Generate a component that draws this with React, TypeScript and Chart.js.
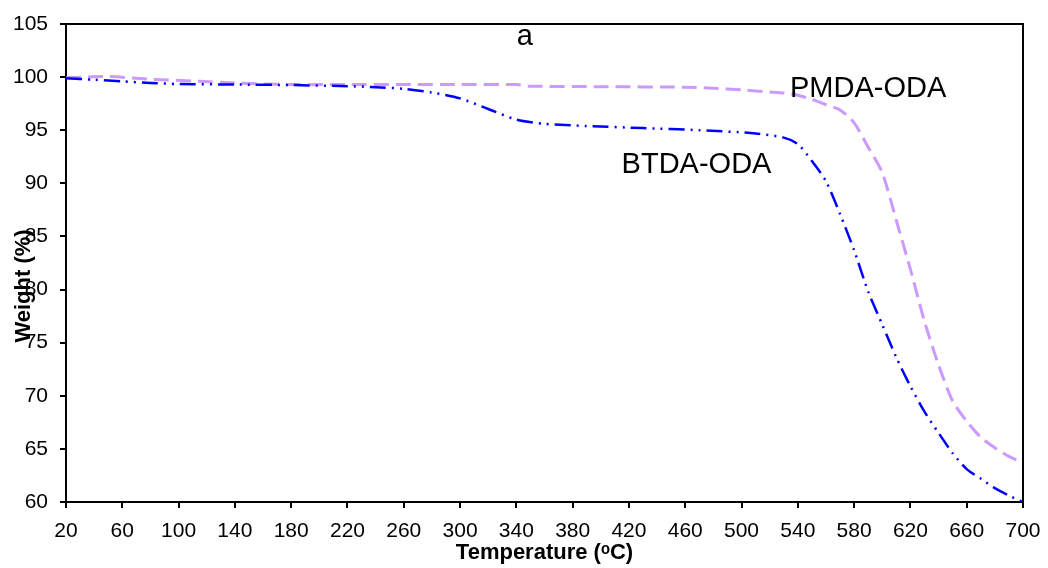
import React, { useEffect, useRef } from 'react';
import { Chart, registerables } from 'chart.js';

Chart.register(...registerables);

// BTDA-ODA (blue, dash-dot-dot)
const btdaTemps = [20, 40, 60, 80, 100, 140, 180, 220, 240, 260, 280, 300, 320, 340, 360, 390, 430, 470, 510, 530, 540, 550, 560, 570, 580, 590, 600, 610, 620, 630, 640, 650, 660, 670, 680, 690, 700];
const btdaWeights = [99.9, 99.75, 99.6, 99.45, 99.35, 99.3, 99.25, 99.15, 99.05, 98.9, 98.55, 98.0, 97.0, 96.0, 95.6, 95.4, 95.2, 95.0, 94.7, 94.3, 93.7, 92.1, 90.2, 87.1, 83.7, 79.8, 76.7, 73.6, 70.9, 68.5, 66.5, 64.6, 63.1, 62.2, 61.3, 60.6, 60.0];

// PMDA-ODA (lavender, dashed)
const pmdaTemps = [20, 50, 80, 115, 140, 180, 220, 260, 300, 340, 350, 400, 460, 480, 500, 520, 530, 540, 550, 560, 570, 580, 590, 600, 610, 620, 630, 640, 650, 660, 670, 680, 690, 700];
const pmdaWeights = [99.95, 100.05, 99.8, 99.6, 99.45, 99.3, 99.3, 99.3, 99.3, 99.3, 99.15, 99.1, 99.05, 98.95, 98.8, 98.6, 98.5, 98.3, 97.9, 97.4, 96.9, 95.7, 93.4, 91.0, 86.5, 81.9, 77.0, 72.9, 69.5, 67.6, 66.1, 65.1, 64.3, 63.7];

const seriesNames = ['BTDA-ODA', 'PMDA-ODA'];
const xTickMin = 20;
const xTickMax = 700;
const xTickStep = 40;
const yTickMin = 60;
const yTickMax = 105;
const yTickStep = 5;
const xTitle = 'Temperature (ᵒC)';
const yTitle = 'Weight (%)';

// in-plot text labels (data coordinates)
const noteTexts = ['a', 'PMDA-ODA', 'BTDA-ODA'];
const noteTemps = [346, 534.4, 414.8];
const noteWeights = [103.0, 98.1, 91.0];
const noteAligns: CanvasTextAlign[] = ['center', 'left', 'left'];

const FONT = '"Liberation Sans", Arial, sans-serif';

const framePlugin = {
  id: 'frameAndNotes',
  afterDatasetsDraw(chart: any) {
    const { ctx, chartArea } = chart;
    const { left, top, right, bottom } = chartArea;
    ctx.save();
    ctx.strokeStyle = '#000';
    ctx.lineWidth = 2;
    ctx.beginPath();
    ctx.moveTo(left, top);
    ctx.lineTo(right, top);
    ctx.lineTo(right, bottom);
    ctx.stroke();
    const xs = chart.scales.x;
    const ys = chart.scales.y;
    ctx.fillStyle = '#000';
    ctx.font = `29px ${FONT}`;
    ctx.textBaseline = 'alphabetic';
    for (let i = 0; i < noteTexts.length; i++) {
      ctx.textAlign = noteAligns[i];
      ctx.fillText(noteTexts[i], xs.getPixelForValue(noteTemps[i]), ys.getPixelForValue(noteWeights[i]));
    }
    // y-axis title (drawn slightly below centre, overlapping tick labels as in the source)
    ctx.save();
    ctx.translate(24, ys.getPixelForValue(82.5) + 23);
    ctx.rotate(-Math.PI / 2);
    ctx.font = `bold 22px ${FONT}`;
    ctx.textAlign = 'center';
    ctx.textBaseline = 'middle';
    ctx.fillText(yTitle, 0, 0);
    ctx.restore();
    ctx.restore();
  },
};

export default function App() {
  const ref = useRef<HTMLCanvasElement | null>(null);
  useEffect(() => {
    if (!ref.current) return;
    const btda = btdaTemps.map((t, i) => ({ x: t, y: btdaWeights[i] }));
    const pmda = pmdaTemps.map((t, i) => ({ x: t, y: pmdaWeights[i] }));
    const chart = new Chart(ref.current, {
      type: 'line',
      data: {
        datasets: [
          {
            label: seriesNames[0],
            data: btda,
            borderColor: '#0000FF',
            borderWidth: 2.5,
            borderDash: [16, 6, 2, 6, 2, 6],
            pointRadius: 0,
            tension: 0.25,
            fill: false,
          },
          {
            label: seriesNames[1],
            data: pmda,
            borderColor: '#CC99FF',
            borderWidth: 3,
            borderDash: [15, 7],
            pointRadius: 0,
            tension: 0.25,
            fill: false,
          },
        ],
      },
      options: {
        animation: false,
        responsive: false,
        maintainAspectRatio: false,
        layout: { padding: { top: 24, right: 25, left: 0, bottom: 0 } },
        plugins: {
          legend: { display: false },
          tooltip: { enabled: false },
          title: { display: false },
        },
        scales: {
          x: {
            type: 'linear',
            min: xTickMin,
            max: xTickMax,
            ticks: {
              stepSize: xTickStep,
              color: '#000',
              font: { family: FONT, size: 21 },
              padding: 11,
              maxRotation: 0,
              autoSkip: false,
            },
            grid: {
              display: true,
              drawOnChartArea: false,
              drawTicks: true,
              tickLength: 6,
              color: '#000',
              lineWidth: 2,
            },
            border: { display: true, color: '#000', width: 2 },
            title: {
              display: true,
              text: xTitle,
              color: '#000',
              font: { family: FONT, size: 22, weight: 'bold' },
              padding: { top: 0, bottom: 2 },
            },
            afterFit(scale: any) {
              scale.height = 66;
              scale.paddingLeft = 0;
              scale.paddingRight = 0;
            },
          },
          y: {
            type: 'linear',
            min: yTickMin,
            max: yTickMax,
            ticks: {
              stepSize: yTickStep,
              color: '#000',
              font: { family: FONT, size: 21 },
              padding: 12,
            },
            grid: {
              display: true,
              drawOnChartArea: false,
              drawTicks: true,
              tickLength: 6,
              color: '#000',
              lineWidth: 2,
            },
            border: { display: true, color: '#000', width: 2 },
            title: { display: false, text: yTitle },
            afterFit(scale: any) {
              scale.width = 66;
              scale.paddingTop = 0;
              scale.paddingBottom = 0;
            },
          },
        },
      },
      plugins: [framePlugin],
    });
    return () => chart.destroy();
  }, []);

  return (
    <div style={{ position: 'fixed', left: 0, top: 0, width: 1048, height: 568, background: '#fff' }}>
      <canvas ref={ref} width={1048} height={568} style={{ width: 1048, height: 568, display: 'block' }} />
    </div>
  );
}
